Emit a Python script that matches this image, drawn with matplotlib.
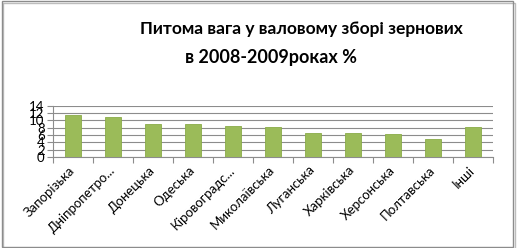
import matplotlib.pyplot as plt
import matplotlib.transforms as mtransforms
from matplotlib.patches import Rectangle

regions = ["Запорізька", "Дніпропетро...", "Донецька", "Одеська", "Кіровоградс...",
           "Миколаївська", "Луганська", "Харківська", "Херсонська", "Полтавська", "Інші"]
shares = [11.5, 11.0, 9.0, 9.0, 8.4, 8.3, 6.5, 6.5, 6.4, 5.0, 8.3]
yticks = [0, 2, 4, 6, 8, 10, 12, 14]

plt.rcParams['font.family'] = ['Lato', 'DejaVu Sans']

fig = plt.figure(figsize=(5.17, 2.48), dpi=100)
ax = fig.add_axes([0.1025, 0.367, 0.851, 0.206])

x = range(len(regions))
ax.bar(x, shares, width=0.4, color='#9bbb59', edgecolor='#8aac48', linewidth=0.6, zorder=3)

ax.set_xlim(-0.5, len(regions) - 0.5)
ax.set_ylim(0, 14)
ax.set_yticks(yticks)
ax.set_yticklabels([str(v) for v in yticks], fontsize=9.5)
ax.yaxis.grid(True, color='#8c8c8c', linewidth=0.8, zorder=0)

ax.set_xticks(list(x))
ax.set_xticklabels(regions, rotation=45, ha='right', va='center', rotation_mode='anchor', fontsize=9.5)
shift = mtransforms.ScaledTranslation(9 / 100, 0, fig.dpi_scale_trans)
for lab in ax.get_xticklabels():
    lab.set_transform(lab.get_transform() + shift)
ax.set_xticks([i - 0.5 for i in range(len(regions) + 1)], minor=True)
ax.tick_params(axis='x', which='major', length=0, pad=8)
ax.tick_params(axis='x', which='minor', length=4, color='#8c8c8c', width=0.8)
ax.tick_params(axis='y', length=4, color='#8c8c8c', width=0.8, pad=2)

for s in ['top', 'right']:
    ax.spines[s].set_visible(False)
for s in ['left', 'bottom']:
    ax.spines[s].set_color('#8c8c8c')
    ax.spines[s].set_linewidth(0.8)

fig.text(0.583, 0.882, "Питома вага у валовому зборі зернових", ha='center', va='center',
         fontsize=12.5, fontweight='bold')
fig.text(0.524, 0.767, "в 2008-2009роках %", ha='center', va='center',
         fontsize=13, fontweight='bold')

fig.patches.append(Rectangle((0.003, 0.006), 0.99, 0.988, transform=fig.transFigure,
                             fill=False, edgecolor='#8c8c8c', linewidth=1.0))
fig.patches.append(Rectangle((0.006, 0.0), 0.99, 0.988, transform=fig.transFigure,
                             fill=False, edgecolor='#bdbdbd', linewidth=1.0, zorder=-1))

fig.savefig('out.png', dpi=100)
